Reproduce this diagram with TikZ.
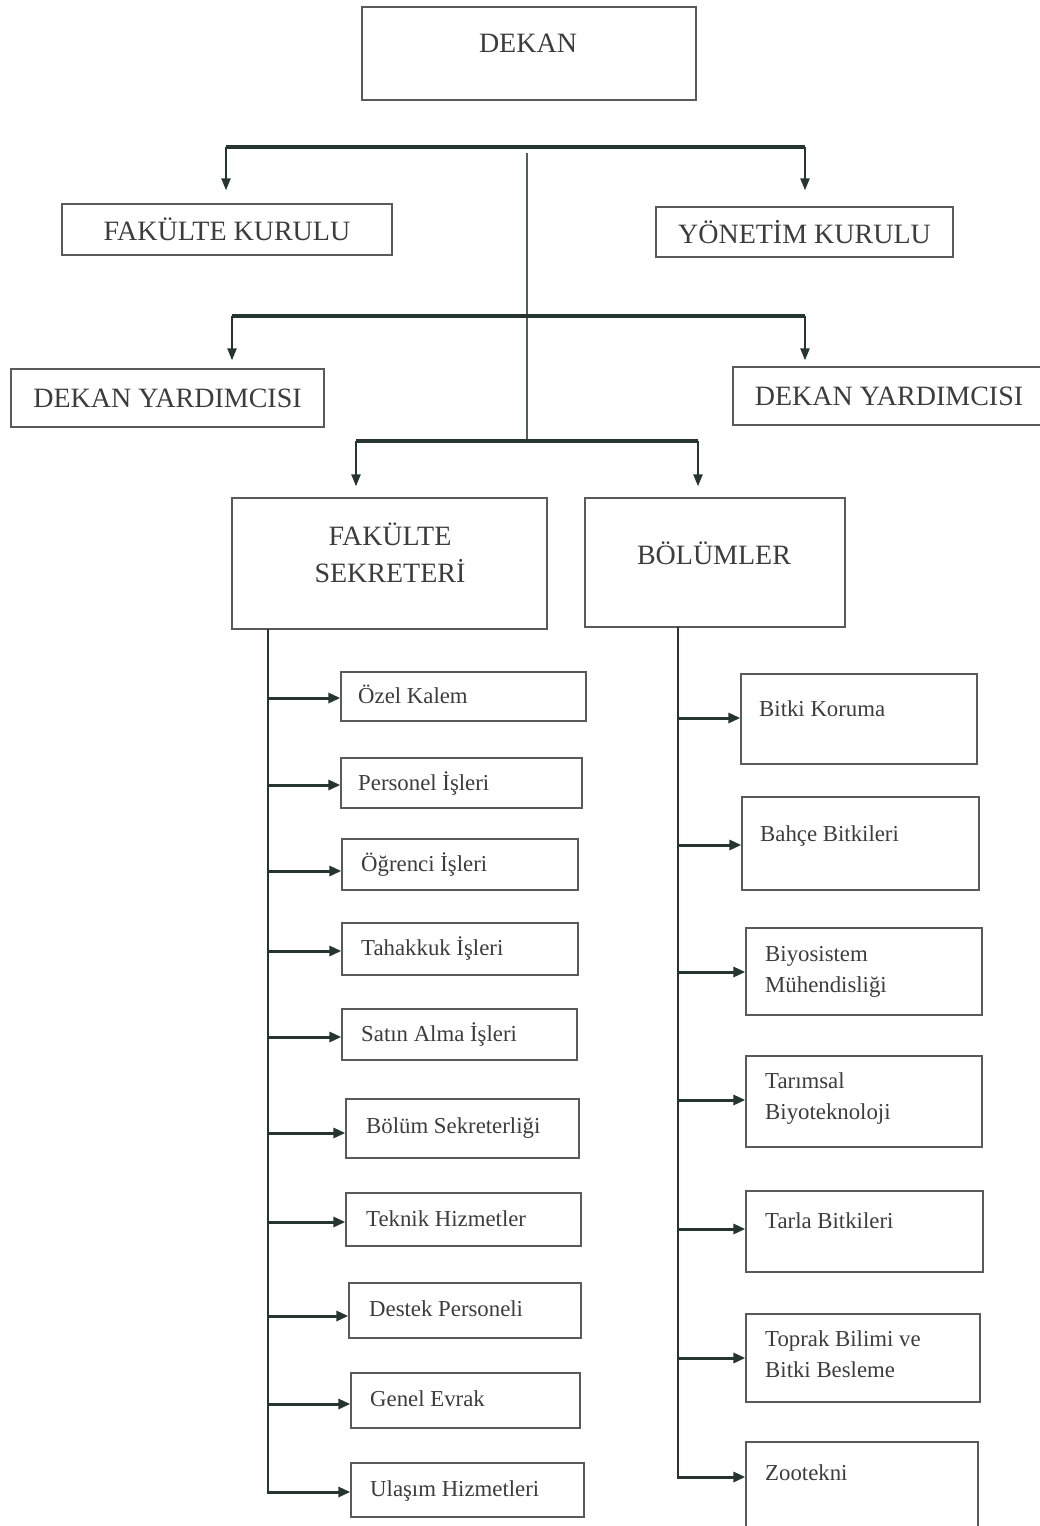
\documentclass[tikz,border=0pt]{standalone}
\usepackage{fontspec}
\setmainfont{Liberation Serif}
\usetikzlibrary{arrows.meta,fit}
\definecolor{ln}{HTML}{26352F}
\definecolor{bd}{HTML}{5A5A5A}
\definecolor{tx}{HTML}{3C3C3C}
\tikzset{
  box/.style={draw=bd, line width=1.3pt, inner sep=0pt},
  big/.style={text=tx, font=\fontsize{28}{32}\selectfont, align=center, inner sep=0pt},
  sm/.style={text=tx, font=\fontsize{22.8}{31}\selectfont, align=left, inner sep=0pt, anchor=base west},
  bar/.style={draw=ln, line width=3.2pt},
  thin/.style={draw=ln!80, line width=1.6pt},
  varr/.style={draw=ln, line width=2.2pt, -{Triangle[length=12pt,width=9pt]}},
  spine/.style={draw=ln, line width=2.6pt},
  harr/.style={draw=ln, line width=3pt, -{Triangle[length=12pt,width=10pt]}},
}
\begin{document}
\begin{tikzpicture}[x=1pt,y=-1pt]
\useasboundingbox (0,0) rectangle (1040,1526);
% top boxes
\node[box, fit={(362,7) (696,100)}] (dekan) {};
\node[big] (tdekan) at (528,43) {DEKAN};
\node[box, fit={(62,204) (392,255)}] (fk) {};
\node[big] (tfk) at (fk) {FAKÜLTE KURULU};
\node[box, fit={(656,207) (953,257)}] (yk) {};
\node[big] (tyk) at (yk) {YÖNETİM KURULU};
\node[box, fit={(11,369) (324,427)}] (dy1) {};
\node[big] (tdy1) at (dy1) {DEKAN YARDIMCISI};
\node[box, fit={(733,367) (1043,425)}] (dy2) {};
\node[big] (tdy2) at (889,396) {DEKAN YARDIMCISI};
\node[box, fit={(232,498) (547,629)}] (fs) {};
\node[big, text depth=0pt, font=\fontsize{28}{37}\selectfont] (tfs) at (390,553) {FAKÜLTE\\SEKRETERİ};
\node[box, fit={(585,498) (845,627)}] (bo) {};
\node[big] (tbo) at (714,553) {BÖLÜMLER};
% trunk
\coordinate (c1) at (527,153);
\coordinate (c2) at (527,441);
\draw[thin] (c1) -- (c2);
\coordinate (b1l) at (226,147); \coordinate (b1r) at (805,147);
\draw[bar] (b1l) -- (b1r);
\draw[varr] (b1l) -- ([yshift=13pt]fk.north -| b1l);
\draw[varr] (b1r) -- ([yshift=16pt]yk.north -| b1r);
\coordinate (b2l) at (232,316); \coordinate (b2r) at (805,316);
\draw[bar] (b2l) -- (b2r);
\draw[varr] (b2l) -- ([yshift=8pt]dy1.north -| b2l);
\draw[varr] (b2r) -- ([yshift=6pt]dy2.north -| b2r);
\coordinate (b3l) at (356,441); \coordinate (b3r) at (698,441);
\draw[bar] (b3l) -- (b3r);
\draw[varr] (b3l) -- ([yshift=11pt]fs.north -| b3l);
\draw[varr] (b3r) -- ([yshift=11pt]bo.north -| b3r);
% left column
\node[box, fit={(341,672) (586,721)}] (l1) {};
\node[box, fit={(341,758) (582,808)}] (l2) {};
\node[box, fit={(342,839) (578,890)}] (l3) {};
\node[box, fit={(342,923) (578,975)}] (l4) {};
\node[box, fit={(342,1009) (577,1060)}] (l5) {};
\node[box, fit={(346,1099) (579,1158)}] (l6) {};
\node[box, fit={(346,1193) (581,1246)}] (l7) {};
\node[box, fit={(349,1283) (581,1338)}] (l8) {};
\node[box, fit={(351,1373) (580,1428)}] (l9) {};
\node[box, fit={(351,1463) (584,1517)}] (l10) {};
\node[sm] (tl1) at (358,703) {Özel Kalem};
\node[sm] (tl2) at (358,790) {Personel İşleri};
\node[sm] (tl3) at (361,871) {Öğrenci İşleri};
\node[sm] (tl4) at (361,955) {Tahakkuk İşleri};
\node[sm] (tl5) at (361,1041) {Satın Alma İşleri};
\node[sm] (tl6) at (366,1133) {Bölüm Sekreterliği};
\node[sm] (tl7) at (366,1226) {Teknik Hizmetler};
\node[sm] (tl8) at (369,1316) {Destek Personeli};
\node[sm] (tl9) at (370,1406) {Genel Evrak};
\node[sm] (tl10) at (370,1496) {Ulaşım Hizmetleri};
\coordinate (ls) at (268,629);
\draw[spine] (ls) -- (268,1492);
\draw[harr] (268,698) -- (l1.west |- 0,698);
\draw[harr] (268,785) -- (l2.west |- 0,785);
\draw[harr] (268,871) -- (l3.west |- 0,871);
\draw[harr] (268,951) -- (l4.west |- 0,951);
\draw[harr] (268,1037) -- (l5.west |- 0,1037);
\draw[harr] (268,1133) -- (l6.west |- 0,1133);
\draw[harr] (268,1222) -- (l7.west |- 0,1222);
\draw[harr] (268,1316) -- (l8.west |- 0,1316);
\draw[harr] (268,1404) -- (l9.west |- 0,1404);
\draw[harr] (266.7,1492) -- (l10.west |- 0,1492);
% right column
\node[box, fit={(741,674) (977,764)}] (r1) {};
\node[box, fit={(742,797) (979,890)}] (r2) {};
\node[box, fit={(746,928) (982,1015)}] (r3) {};
\node[box, fit={(746,1056) (982,1147)}] (r4) {};
\node[box, fit={(746,1191) (983,1272)}] (r5) {};
\node[box, fit={(746,1314) (980,1402)}] (r6) {};
\node[box, fit={(746,1442) (978,1530)}] (r7) {};
\node[sm] (tr1) at (759,716) {Bitki Koruma};
\node[sm] (tr2) at (760,841) {Bahçe Bitkileri};
\node[sm] (tr3) at (765,992) {Biyosistem\\Mühendisliği};
\node[sm] (tr4) at (765,1119) {Tarımsal\\Biyoteknoloji};
\node[sm] (tr5) at (765,1228) {Tarla Bitkileri};
\node[sm] (tr6) at (765,1377) {Toprak Bilimi ve\\Bitki Besleme};
\node[sm] (tr7) at (765,1480) {Zootekni};
\coordinate (rs) at (678,627);
\draw[spine] (rs) -- (678,1477);
\draw[harr] (678,718) -- (r1.west |- 0,718);
\draw[harr] (678,845) -- (r2.west |- 0,845);
\draw[harr] (678,972) -- (r3.west |- 0,972);
\draw[harr] (678,1100) -- (r4.west |- 0,1100);
\draw[harr] (678,1229) -- (r5.west |- 0,1229);
\draw[harr] (678,1358) -- (r6.west |- 0,1358);
\draw[harr] (676.7,1477) -- (r7.west |- 0,1477);
\end{tikzpicture}
\end{document}
